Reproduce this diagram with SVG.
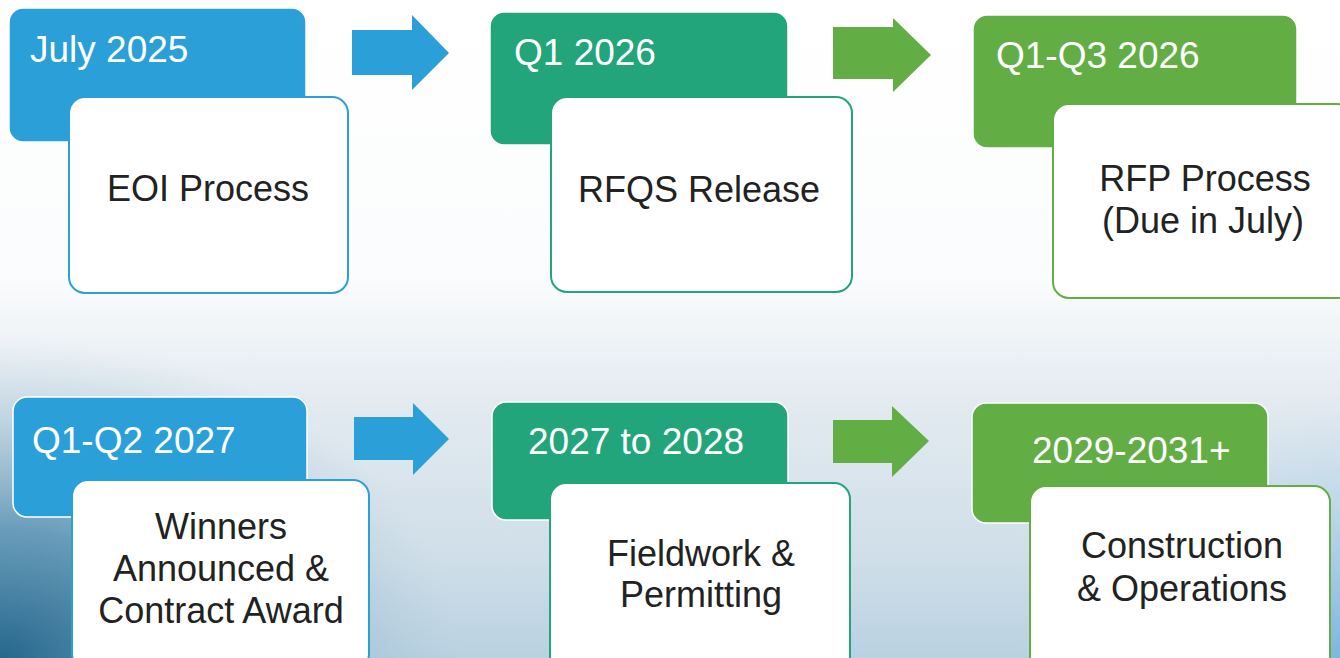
<svg xmlns="http://www.w3.org/2000/svg" width="1340" height="658" viewBox="0 0 1340 658">
<defs>
<linearGradient id="bgv" x1="0" y1="0" x2="0" y2="1">
<stop offset="0" stop-color="#ffffff"/>
<stop offset="0.42" stop-color="#fbfcfd"/>
<stop offset="0.6" stop-color="#e4ebf1"/>
<stop offset="0.85" stop-color="#cfdeE8"/>
<stop offset="1" stop-color="#b9d1e1"/>
</linearGradient>
<radialGradient id="bgl" cx="0" cy="658" r="460" gradientUnits="userSpaceOnUse" gradientTransform="translate(0 658) scale(1 0.7) translate(0 -658)">
<stop offset="0" stop-color="#26678c" stop-opacity="1"/>
<stop offset="0.4" stop-color="#4f8bae" stop-opacity="0.8"/>
<stop offset="1" stop-color="#a9c6d8" stop-opacity="0"/>
</radialGradient>
<radialGradient id="bgr" cx="1340" cy="658" r="260" gradientUnits="userSpaceOnUse">
<stop offset="0" stop-color="#6fb0dd" stop-opacity="0.8"/>
<stop offset="1" stop-color="#a9cce4" stop-opacity="0"/>
</radialGradient>
</defs>
<style>
.hdr{font-family:"Liberation Sans",Arial,sans-serif;font-size:37px;fill:#ffffff}
.lbl{font-family:"Liberation Sans",Arial,sans-serif;font-size:36px;fill:#222222;text-anchor:middle}
.card{fill:#ffffff;stroke-width:2}
.blue{fill:#2a9fd8}
.teal{fill:#22a57a}
.green{fill:#62ae45}
.sb{stroke:#2a9fd8}
.st{stroke:#22a57a}
.sg{stroke:#62ae45}
.tab{stroke:#ffffff;stroke-width:1.5}
</style>
<rect x="0" y="0" width="1340" height="658" fill="url(#bgv)"/>
<rect x="0" y="300" width="1340" height="358" fill="url(#bgl)"/>
<rect x="0" y="300" width="1340" height="358" fill="url(#bgr)"/>

<g id="connectors">
<polygon class="blue" points="352,30 412,30 412,15 449,53 412,90 412,75 352,75"/>
<polygon class="green" points="833,27 893,27 893,18 931,55 893,92 893,79 833,79"/>
<polygon class="blue" points="354,417 413,417 413,403 449,439 413,475 413,460 354,460"/>
<polygon class="green" points="833,420 892,420 892,406 929,441 892,477 892,463 833,463"/>
</g>

<g id="n1">
<rect class="blue tab" x="9" y="8" width="297" height="134" rx="14"/>
<text class="hdr" x="30" y="62">July 2025</text>
<rect class="card sb" x="69" y="97" width="279" height="196" rx="16"/>
<text class="lbl" x="208" y="201">EOI Process</text>
</g>

<g id="n2">
<rect class="teal tab" x="490" y="12" width="298" height="133" rx="14"/>
<text class="hdr" x="514" y="65">Q1 2026</text>
<rect class="card st" x="551" y="97" width="301" height="195" rx="16"/>
<text class="lbl" x="699" y="202">RFQS Release</text>
</g>

<g id="n3">
<rect class="green tab" x="973" y="15" width="324" height="133" rx="14"/>
<text class="hdr" x="996" y="68">Q1-Q3 2026</text>
<rect class="card sg" x="1053" y="104" width="300" height="194" rx="16"/>
<text class="lbl" x="1205" y="191">RFP Process</text>
<text class="lbl" x="1203" y="233">(Due in July)</text>
</g>

<g id="n4">
<rect class="blue tab" x="13" y="397" width="294" height="120" rx="14"/>
<text class="hdr" x="32" y="453">Q1-Q2 2027</text>
<rect class="card sb" x="72" y="480" width="297" height="190" rx="16"/>
<text class="lbl" x="221" y="539">Winners</text>
<text class="lbl" x="221" y="581">Announced &amp;</text>
<text class="lbl" x="221" y="623">Contract Award</text>
</g>

<g id="n5">
<rect class="teal tab" x="492" y="402" width="296" height="118" rx="14"/>
<text class="hdr" x="528" y="454">2027 to 2028</text>
<rect class="card st" x="550" y="483" width="300" height="190" rx="16"/>
<text class="lbl" x="701" y="566">Fieldwork &amp;</text>
<text class="lbl" x="701" y="607">Permitting</text>
</g>

<g id="n6">
<rect class="green tab" x="972" y="403" width="296" height="120" rx="14"/>
<text class="hdr" x="1032" y="463">2029-2031+</text>
<rect class="card sg" x="1030" y="486" width="300" height="190" rx="16"/>
<text class="lbl" x="1182" y="558">Construction</text>
<text class="lbl" x="1182" y="601">&amp; Operations</text>
</g>
</svg>
